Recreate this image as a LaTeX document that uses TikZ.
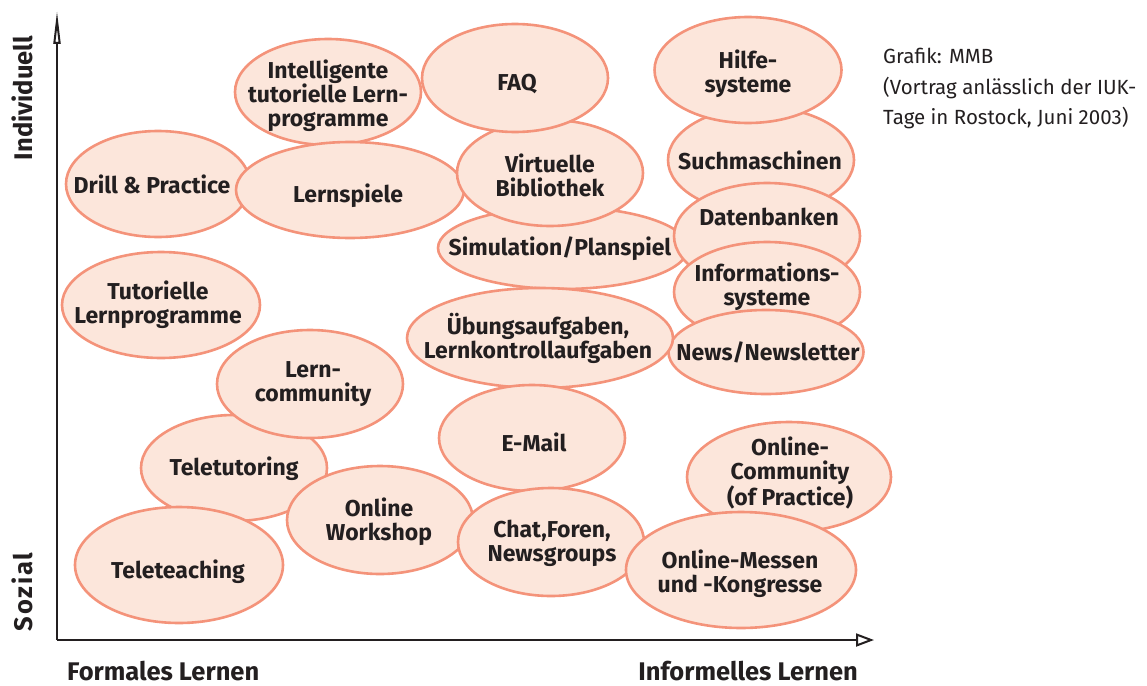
\documentclass[tikz,border=0pt]{standalone}
\usepackage{fontspec}
\setmainfont{Fira Sans}
\usetikzlibrary{arrows.meta,shapes.geometric}
\definecolor{bubblefill}{HTML}{FCE6DB}
\definecolor{bubbleline}{HTML}{F4937A}
\definecolor{ink}{HTML}{231F20}
\tikzset{
  bubble/.style={ellipse, draw=bubbleline, fill=bubblefill, line width=2.6pt, inner sep=0pt},
  txt/.style={align=center, text=ink, inner sep=0pt, font=\fontsize{23}{24}\selectfont\bfseries},
  axislabel/.style={text=ink, inner sep=0pt, font=\fontsize{25.5}{28}\selectfont\bfseries},
  note/.style={text=ink, inner sep=0pt, align=left, anchor=north west, font=\fontsize{20.5}{30.5}\selectfont},
  axis/.style={line width=2pt, draw=ink}
}
% bubble name, centre, radii, label position, label
\newcommand{\bub}[7]{%
  \node[bubble, minimum width=#4pt, minimum height=#5pt] (#1) at (#2,#3) {};
  \node[txt] (#1-t) at (#6) {#7};}
\begin{document}
\begin{tikzpicture}[x=1pt, y=-1pt]
\useasboundingbox (0,0) rectangle (1147,685);

% axes
\coordinate (origin) at (57,640);
\coordinate (ytop) at (57,11);
\coordinate (xend) at (874,640);
\draw[axis, -{Triangle[open, length=33pt, width=7pt]}] (origin) -- (ytop);
\draw[axis, -{Triangle[open, length=18pt, width=13pt]}] (origin) -- (xend);

\node[axislabel, rotate=90] (indiv) at (22,98) {Individuell};
\node[axislabel, rotate=90] (sozial) at (22,592) {\addfontfeature{LetterSpace=7}Sozial};
\node[axislabel, anchor=base west] (formal) at (67,680) {Formales Lernen};
\node[axislabel, anchor=base east] (informal) at (858,680) {Informelles Lernen};

\node[note] (source) at (883,48) {Grafik: MMB\\(Vortrag anlässlich der IUK-\\Tage in Rostock, Juni 2003)};

% bubbles, back to front
\bub{drill}{158}{184}{184}{106}{152,184}{Drill \& Practice}
\bub{its}{328}{92}{186}{106}{328,96}{Intelligente\\tutorielle Lern-\\programme}
\bub{lernspiele}{350}{190}{228}{96}{348,196}{Lernspiele}
\bub{simulation}{563}{248}{250}{82}{560,249}{Simulation/Planspiel}
\bub{bibliothek}{550}{173}{186}{106}{550,175}{Virtuelle\\Bibliothek}
\bub{faq}{515}{78}{186}{108}{517,84}{FAQ}
\bub{such}{761}{160}{186}{106}{760,160}{Suchmaschinen}
\bub{hilfe}{748}{70}{187}{106}{748,74}{Hilfe-\\systeme}
\bub{daten}{767}{236}{186}{106}{769,217}{Datenbanken}
\bub{info}{767}{292}{186}{100}{767,287}{Informations-\\systeme}
\bub{news}{766}{352}{195}{84}{768,352}{News/Newsletter}
\bub{uebung}{540}{338}{266}{100}{538,338}{Übungsaufgaben,\\Lernkontrollaufgaben}
\bub{tutoriell}{161}{305}{198}{106}{158,305}{Tutorielle\\Lernprogramme}
\bub{teletutor}{234}{468}{186}{106}{234,469}{Teletutoring}
\bub{lerncomm}{310}{384}{186}{108}{313,384}{Lern-\\community}
\bub{teleteach}{179}{565}{208}{116}{178,572}{Teleteaching}
\bub{workshop}{380}{520}{186}{108}{379,522}{Online\\Workshop}
\bub{email}{532}{438}{186}{106}{534,442}{E-Mail}
\bub{chat}{551}{542}{186}{108}{552,543}{Chat,Foren,\\Newsgroups}
\bub{community}{789}{477}{204}{110}{790,473}{Online-\\Community\\(of Practice)}
\bub{messen}{741}{570}{230}{116}{740,574}{Online-Messen\\und -Kongresse}
\end{tikzpicture}
\end{document}
